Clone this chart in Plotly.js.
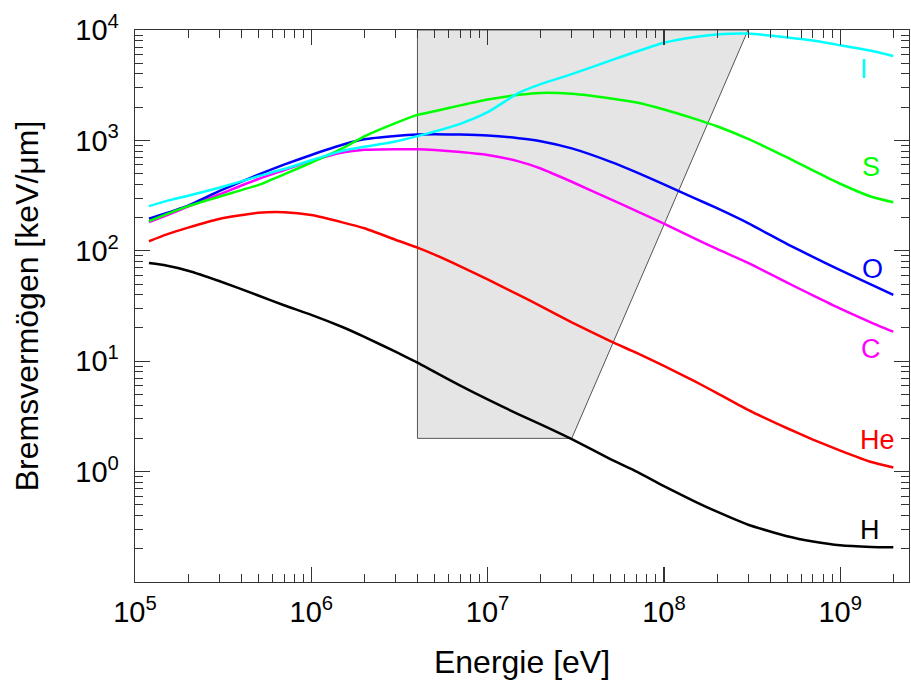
<!DOCTYPE html>
<html>
<head>
<meta charset="utf-8">
<script src="https://cdn.plot.ly/plotly-3.0.1.min.js"></script>
<style>html,body{margin:0;padding:0;background:#fff;}#chart{width:911px;height:684px;}</style>
</head>
<body>
<div id="chart"></div>
<script>
// Energy grid [eV]
const energy = [1.2e5, 1.5e5, 2e5, 3e5, 5e5, 7e5, 1e6, 1.5e6, 2e6, 3e6, 4e6, 5e6, 7e6, 1e7, 1.5e7, 2e7, 3e7, 5e7, 7e7, 1e8, 1.5e8, 2e8, 3e8, 5e8, 7e8, 1e9, 1.5e9, 2e9];

// Stopping power [keV/um]
const stopH  = [77.4, 73.5, 66, 53.3, 39.4, 32.1, 26.3, 20.4, 16.6, 12.2, 9.7, 8.0, 6.0, 4.5, 3.3, 2.68, 1.97, 1.29, 1.0, 0.74, 0.535, 0.433, 0.33, 0.26, 0.233, 0.215, 0.208, 0.206];
const stopHe = [122, 140, 162, 194, 221, 224, 211, 181, 160, 126, 107, 92.5, 72.4, 55, 39.8, 31.6, 22.5, 15.1, 11.9, 9.06, 6.55, 5.15, 3.63, 2.47, 1.95, 1.55, 1.22, 1.09];
const stopC  = [182, 209, 251, 324, 447, 537, 653, 776, 822, 832, 830, 817, 785, 738, 646, 556, 422, 292, 229, 176, 129, 104, 77.6, 51.5, 39.4, 29.9, 22.4, 18.5];
const stopO  = [195, 219, 257, 347, 490, 603, 738, 912, 1023, 1096, 1130, 1135, 1130, 1109, 1047, 984, 847, 640, 514, 400, 299, 243, 178, 115, 88, 66.7, 49.5, 39.8];
const stopS  = [186, 214, 254, 309, 394, 493, 628, 845, 1086, 1432, 1702, 1837, 2075, 2344, 2588, 2692, 2642, 2399, 2203, 1905, 1567, 1343, 1033, 701, 536, 405, 309, 275];
const stopI  = [254, 282, 315, 372, 473, 550, 661, 804, 877, 977, 1094, 1202, 1413, 1800, 2692, 3236, 3981, 5309, 6383, 7674, 8650, 9120, 9290, 8570, 8035, 7278, 6486, 5821];

// Shaded region (corners)
const regionE = [4e6, 4e6, 3e7, 3e8, 4e6];
const regionS = [1e4, 2, 2, 1e4, 1e4];

// Axis tick labels
const xTickVals = [1e5, 1e6, 1e7, 1e8, 1e9];
const xTickText = ['10<sup>5</sup>', '10<sup>6</sup>', '10<sup>7</sup>', '10<sup>8</sup>', '10<sup>9</sup>'];
const yTickVals = [1, 10, 100, 1000, 10000];
const yTickText = ['10<sup>0</sup>', '10<sup>1</sup>', '10<sup>2</sup>', '10<sup>3</sup>', '10<sup>4</sup>'];

// Curve labels
const labelNames = ['I', 'S', 'O', 'C', 'He', 'H'];
const labelE = [1.37e9, 1.5e9, 1.52e9, 1.5e9, 1.63e9, 1.48e9];
const labelS = [4410, 570, 69, 13.0, 1.95, 0.298];

const colors = {H:'#000000', He:'#ff0000', C:'#ff00ff', O:'#0000ff', S:'#00ff00', I:'#00ffff'};
const series = [['H', stopH], ['He', stopHe], ['C', stopC], ['O', stopO], ['S', stopS], ['I', stopI]];

const traces = [{
  x: regionE, y: regionS, mode: 'lines', fill: 'toself',
  fillcolor: '#e5e5e5', line: {color: '#555555', width: 1}, hoverinfo: 'skip', showlegend: false
}];
series.forEach(([name, vals]) => {
  traces.push({x: energy, y: vals, mode: 'lines', name: name,
    line: {color: colors[name], width: 2.5, shape: 'spline', smoothing: 0.5}, showlegend: false});
});

const font = 'Liberation Sans, Arial, Helvetica, sans-serif';
const annotations = labelNames.map((n, i) => ({
  x: Math.log10(labelE[i]), y: Math.log10(labelS[i]), xref: 'x', yref: 'y',
  text: n, showarrow: false, font: {family: font, size: 27, color: colors[n]}
}));

const axisCommon = {
  type: 'log', showgrid: false, zeroline: false,
  showline: true, linecolor: '#333333', linewidth: 1.3, mirror: 'allticks',
  ticks: 'inside', ticklen: 15, tickwidth: 1.3, tickcolor: '#333333',
  tickmode: 'array',
  tickfont: {family: font, size: 29, color: '#000'},
  minor: {ticks: 'inside', ticklen: 8, tickwidth: 1, tickcolor: '#333333', tickmode: 'linear', dtick: 'D1', showgrid: false}
};

const layout = {
  width: 911, height: 684,
  margin: {l: 135, r: 2, t: 30, b: 102},
  paper_bgcolor: '#ffffff', plot_bgcolor: '#ffffff',
  showlegend: false,
  xaxis: Object.assign({}, axisCommon, {
    range: [5, 9.39],
    tickvals: xTickVals, ticktext: xTickText,
    ticklabelstandoff: 4,
    title: {text: 'Energie [eV]', font: {family: font, size: 32, color: '#000'}, standoff: 23}
  }),
  yaxis: Object.assign({}, axisCommon, {
    range: [-1, 4],
    tickvals: yTickVals, ticktext: yTickText,
    ticklabelstandoff: 9,
    title: {text: 'Bremsvermögen [keV/μm]', font: {family: font, size: 32, color: '#000'}, standoff: 27}
  }),
  annotations: annotations
};

Plotly.newPlot('chart', traces, layout, {staticPlot: true, displayModeBar: false});
</script>
</body>
</html>
